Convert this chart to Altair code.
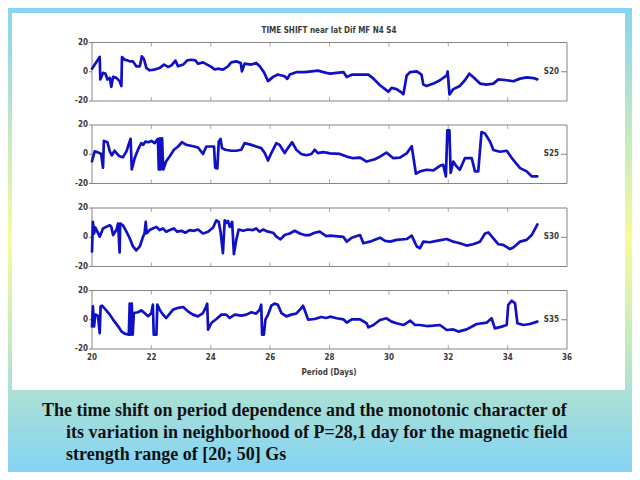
import altair as alt
import pandas as pd

# ---------------- data ----------------
TITLE = "TIME SHIFT near lat Dif MF N4 S4"
X_LABEL = "Period (Days)"
SERIES_NAMES = ["S20", "S25", "S30", "S35"]
X_TICKS = [20, 22, 24, 26, 28, 30, 32, 34, 36]
X_INNER_TICKS = [22, 24, 26, 28, 30, 32, 34]
Y_TICKS = [-20, 0, 20]
CAPTION = [
    "The time shift on period dependence and the monotonic character of",
    "its variation in neighborhood of P=28,1 day for the magnetic field",
    "strength range of [20; 50] Gs",
]

s20_day = [20.00, 20.26, 20.28, 20.37, 20.45, 20.52, 20.60, 20.65, 20.71, 20.82,
           20.93, 20.99, 21.01, 21.10, 21.19, 21.27, 21.38, 21.49, 21.61, 21.68,
           21.75, 21.83, 21.94, 22.11, 22.28, 22.43, 22.56, 22.67, 22.81, 22.90,
           23.07, 23.21, 23.35, 23.48, 23.57, 23.74, 23.88, 24.02, 24.13, 24.24,
           24.41, 24.58, 24.69, 24.86, 25.01, 25.05, 25.14, 25.37, 25.53, 25.65,
           25.79, 25.93, 26.10, 26.26, 26.49, 26.58, 26.66, 26.88, 27.16, 27.39,
           27.61, 27.89,
           28.02, 28.47, 28.58, 28.75, 29.31, 29.48, 29.70, 29.87, 29.98, 30.09,
           30.26, 30.43, 30.49, 30.60, 30.72, 30.94, 31.10, 31.16, 31.27, 31.50,
           31.72, 31.95, 31.98, 32.04, 32.17, 32.39, 32.56, 32.71, 32.84, 33.07,
           33.29, 33.52, 33.69, 33.97, 34.19, 34.42, 34.64, 34.87, 35.00]
s20_val = [2.1, 10.1, -5.3, -0.8, -1.2, -5.3, -4.2, -10.3, -3.5, -4.2,
           -6.4, -9.8, 10.1, 8.2, 7.8, 7.1, 7.1, 3.7, 3.7, 10.5,
           8.7, 2.6, 1.0, 1.5, 2.6, 4.9, 3.3, 4.2, 7.6, 3.7,
           4.9, 7.8, 8.2, 7.8, 5.5, 6.4, 4.9, 3.3, 1.5, 2.1,
           1.5, 3.7, 6.4, 7.1, 6.0, 0.3, 5.5, 4.9, 6.0, 3.7,
           -0.3, -6.4, -3.5, -1.9, -3.1, -4.9, -1.9, -0.3, -0.3, 0.3,
           0.8, -0.8,
           -1.3, -0.2, -3.6, -2.0, -2.0, -4.7, -9.2, -11.9, -13.7, -11.0,
           -11.9, -14.2, -15.3, -2.5, -0.2, 0.2, -2.0, -8.8, -9.7, -8.1,
           -5.8, -2.5, 0.2, -15.5, -11.9, -9.7, -5.8, -1.3, -3.6, -8.1,
           -8.8, -8.1, -5.2, -5.8, -6.5, -4.7, -3.8, -4.3, -5.2]

s25_day = [20.00, 20.09, 20.20, 20.31, 20.37, 20.40, 20.52, 20.60, 20.67, 20.76,
           20.85, 20.93, 21.04, 21.16, 21.27, 21.30, 21.34, 21.44, 21.55, 21.66,
           21.72, 21.80, 21.89, 22.00, 22.11, 22.22, 22.25, 22.29, 22.31, 22.36,
           22.40, 22.50, 22.62, 22.76, 22.90, 23.03, 23.18, 23.29, 23.44, 23.57,
           23.74, 23.85, 24.00, 24.11, 24.15, 24.22, 24.27, 24.33, 24.38, 24.49,
           24.69, 24.86, 25.03, 25.14, 25.37, 25.53, 25.70, 25.82, 25.93, 26.04,
           26.21, 26.32, 26.49, 26.60, 26.74, 26.88, 27.05, 27.22, 27.39, 27.50,
           27.61, 27.78, 27.89,
           28.02, 28.35, 28.58, 28.80, 29.03, 29.25, 29.53, 29.70, 29.92, 30.15,
           30.37, 30.60, 30.77, 30.91, 31.05, 31.27, 31.50, 31.72, 31.83, 31.92,
           31.97, 32.04, 32.08, 32.17, 32.28, 32.39, 32.56, 32.79, 32.90, 33.01,
           33.12, 33.24, 33.41, 33.52, 33.74, 33.97, 34.19, 34.42, 34.64, 34.81,
           35.00]
s25_val = [-4.8, 2.0, 1.3, 0.2, -9.2, 9.1, 8.2, 2.0, -0.7, 2.4,
           0.2, -1.4, -2.1, 2.0, 8.7, 10.5, -10.4, -2.5, 3.1, 7.6,
           6.4, 8.7, 8.2, 9.1, 7.6, 10.5, -10.4, 10.9, -10.4, 10.9,
           -10.4, -4.8, -1.4, 3.1, 5.3, 8.2, 6.4, 6.0, 5.3, 4.6,
           0.2, 5.3, 5.3, 5.3, -9.2, -9.7, 8.7, 10.5, 4.2, 3.1,
           2.4, 2.4, 3.1, 7.6, 6.4, 5.3, 4.2, 0.8, -4.3, 0.8,
           7.6, 6.4, 0.8, 4.2, 8.2, 3.1, 0.2, -0.7, 0.2, 3.1,
           0.8, 1.5, 1.1,
           0.6, 0.2, -1.6, -2.7, -2.3, -5.0, -3.4, -1.6, 1.1, -2.7,
           -2.3, 0.6, 5.5, -13.3, -11.7, -10.6, -11.0, -7.9, -7.2, -15.1,
           16.3, 16.3, -12.8, -5.0, -8.3, -10.6, -2.7, -2.7, -11.7, -11.7,
           15.2, 14.1, 8.5, 2.9, 1.7, 2.4, -3.9, -9.5, -11.7, -15.1,
           -15.1]

s30_day = [20.00, 20.03, 20.07, 20.11, 20.18, 20.26, 20.37, 20.48, 20.60, 20.65,
           20.71, 20.82, 20.88, 20.93, 20.95, 21.04, 21.16, 21.27, 21.38, 21.49,
           21.61, 21.72, 21.77, 21.81, 21.84, 21.94, 22.05, 22.17, 22.28, 22.39,
           22.50, 22.62, 22.76, 22.87, 23.01, 23.14, 23.29, 23.44, 23.57, 23.74,
           23.91, 24.08, 24.19, 24.27, 24.33, 24.41, 24.47, 24.52, 24.58, 24.64,
           24.72, 24.78, 24.86, 24.94, 25.09, 25.25, 25.42, 25.53, 25.65, 25.76,
           25.93, 26.10, 26.21, 26.35, 26.49, 26.66, 26.83, 27.00, 27.16, 27.33,
           27.50, 27.67, 27.89,
           28.02, 28.47, 28.58, 28.75, 29.03, 29.14, 29.36, 29.70, 29.87, 30.04,
           30.26, 30.60, 30.77, 30.94, 31.05, 31.16, 31.38, 31.61, 31.95, 32.17,
           32.39, 32.62, 32.84, 33.07, 33.24, 33.35, 33.52, 33.69, 33.85, 34.08,
           34.19, 34.42, 34.64, 34.81, 35.00]
s30_val = [-9.7, 10.5, 2.6, 6.7, 3.8, 0.4, 6.0, 7.1, 8.2, 7.1,
           1.5, 4.9, 9.4, -10.4, 9.4, 8.2, 3.8, -0.7, -6.3, -9.0,
           -6.3, 0.4, 2.6, 10.5, 2.6, 4.9, 6.0, 7.1, 4.9, 6.0,
           3.8, 4.9, 6.0, 3.8, 4.4, 3.1, 4.9, 4.4, 5.3, 2.6,
           3.8, 6.7, 11.6, 10.5, 3.8, -10.8, 11.6, 9.8, 11.1, 7.1,
           10.5, -11.5, -1.8, 5.3, 4.4, 5.3, 4.9, 6.0, 3.8, 5.3,
           3.8, 3.1, 0.4, -1.4, 1.5, 2.6, 4.4, 2.6, 1.5, 1.5,
           3.1, 3.8, 0.8,
           1.1, 0.2, -3.0, -0.3, 1.5, -4.1, -3.0, -0.3, -2.5, -3.0,
           -1.8, -1.2, 1.1, -6.3, -7.5, -3.0, -3.4, -2.5, -1.2, -3.0,
           -4.1, -5.7, -4.8, -3.0, 2.6, 3.3, -0.7, -4.8, -5.2, -8.1,
           -7.0, -3.0, -1.8, 1.5, 8.7]

s35_day = [20.00, 20.03, 20.07, 20.11, 20.20, 20.26, 20.29, 20.34, 20.48, 20.60,
           20.71, 20.88, 20.99, 21.10, 21.24, 21.27, 21.30, 21.34, 21.37, 21.41,
           21.55, 21.66, 21.77, 21.89, 22.00, 22.05, 22.08, 22.17, 22.20, 22.28,
           22.39, 22.50, 22.62, 22.73, 22.87, 23.07, 23.23, 23.40, 23.57, 23.74,
           23.85, 23.88, 23.91, 24.02, 24.19, 24.36, 24.52, 24.64, 24.81, 25.03,
           25.20, 25.37, 25.53, 25.65, 25.70, 25.73, 25.79, 25.84, 25.93, 26.04,
           26.15, 26.26, 26.38, 26.55, 26.71, 26.88, 27.05, 27.11, 27.28, 27.50,
           27.72, 27.89,
           28.02, 28.24, 28.47, 28.58, 28.75, 29.03, 29.25, 29.31, 29.48, 29.70,
           29.92, 30.09, 30.26, 30.49, 30.72, 30.88, 31.05, 31.27, 31.50, 31.72,
           31.95, 32.17, 32.34, 32.62, 32.96, 33.29, 33.46, 33.57, 33.80, 33.97,
           34.02, 34.14, 34.25, 34.33, 34.53, 34.75, 35.00]
s35_val = [-4.5, 9.2, -4.5, 3.5, 2.8, -9.1, 9.2, 9.6, 6.4, 3.5,
           0.1, -4.5, -7.9, -9.5, -10.2, 11.0, -10.2, 11.0, -10.2, 4.6,
           5.1, 6.4, 4.6, 2.3, 4.6, 10.3, -10.2, -10.2, 10.3, 6.9,
           3.5, 1.2, 4.2, 6.9, 8.0, 8.7, 5.8, 3.5, 2.3, 4.6,
           9.2, 11.0, -6.8, -2.2, 0.5, 3.5, 3.5, 1.2, 3.5, 2.8,
           3.5, 5.1, 4.2, 6.9, 10.3, -10.2, -10.2, 0.1, 3.5, 9.6,
           11.0, 10.3, 4.6, 2.3, 3.5, 4.2, 8.0, 9.6, 0.1, 0.5,
           1.9, 1.2,
           2.1, 1.0, 0.3, -2.0, 0.3, 0.3, -2.4, -5.2, -3.6, -0.2,
           1.0, -1.3, -2.4, -3.6, -0.6, -3.6, -3.6, -4.3, -4.0, -3.6,
           -7.0, -6.6, -8.1, -6.6, -2.9, -2.0, 1.0, -5.9, -4.7, -3.6,
           10.1, 13.0, 11.2, -2.4, -3.6, -2.9, -1.3]

SERIES = [(s20_day, s20_val), (s25_day, s25_val), (s30_day, s30_val), (s35_day, s35_val)]

# ---------------- layout / style ----------------
W, H = 624, 464
X_RANGE = [84, 559]
PANEL_TOP = [34.5, 117, 200, 282.5]
PANEL_H = 58.5
LINE_BLUE = "#1010c4"
FRAME = "#858585"
TXT = "#3a3a3a"
SMALL_FONT = "Liberation Sans Narrow, DejaVu Sans Condensed, sans-serif"
CAP_FONT = "Liberation Serif, Times New Roman, serif"
SMALL_SIZE = 8


def xs():
    return alt.Scale(domain=[20, 36], range=X_RANGE, nice=False, zero=False)


def ys(i):
    return alt.Scale(domain=[-20, 20], range=[PANEL_TOP[i] + PANEL_H, PANEL_TOP[i]],
                     nice=False, zero=False)


one = alt.Data(values=[{"a": 1}])
layers = []

# background gradient and white sheet
layers.append(
    alt.Chart(one).mark_rect(
        fill=alt.LinearGradient(
            gradient="linear", x1=0, x2=0, y1=0, y2=1,
            stops=[alt.GradientStop(color="#86d4f3", offset=0),
                   alt.GradientStop(color="#f8fb98", offset=0.5),
                   alt.GradientStop(color="#84d3f4", offset=1)]),
        stroke=None,
    ).encode(x=alt.value(0), x2=alt.value(W), y=alt.value(0), y2=alt.value(H))
)
layers.append(
    alt.Chart(one).mark_rect(fill="white", stroke=None).encode(
        x=alt.value(4), x2=alt.value(617), y=alt.value(5), y2=alt.value(382))
)

frame_df = pd.DataFrame({"x0": [20], "x1": [36], "y0": [-20], "y1": [20]})
xt_df = pd.DataFrame({"t": X_INNER_TICKS, "lo": [-20] * len(X_INNER_TICKS),
                      "hi": [20] * len(X_INNER_TICKS)})
yt_df = pd.DataFrame({"v": Y_TICKS, "lab": [str(v) for v in Y_TICKS]})

for i, (days, vals) in enumerate(SERIES):
    df = pd.DataFrame({"day": days, "val": vals, "i": list(range(len(days)))})
    # frame
    layers.append(
        alt.Chart(frame_df).mark_rect(fillOpacity=0, stroke=FRAME, strokeWidth=1).encode(
            x=alt.X("x0:Q", scale=xs(), axis=None), x2="x1:Q",
            y=alt.Y("y0:Q", scale=ys(i), axis=None), y2="y1:Q")
    )
    # inner x ticks (bottom and top)
    layers.append(
        alt.Chart(xt_df).mark_tick(orient="vertical", size=4, thickness=1, color=FRAME,
                                   yOffset=-2).encode(
            x=alt.X("t:Q", scale=xs(), axis=None),
            y=alt.Y("lo:Q", scale=ys(i), axis=None))
    )
    layers.append(
        alt.Chart(xt_df).mark_tick(orient="vertical", size=4, thickness=1, color=FRAME,
                                   yOffset=2).encode(
            x=alt.X("t:Q", scale=xs(), axis=None),
            y=alt.Y("hi:Q", scale=ys(i), axis=None))
    )
    # left y ticks and labels
    layers.append(
        alt.Chart(yt_df).mark_rule(color=FRAME, strokeWidth=1).encode(
            x=alt.value(81), x2=alt.value(84),
            y=alt.Y("v:Q", scale=ys(i), axis=None))
    )
    layers.append(
        alt.Chart(yt_df).mark_text(align="right", baseline="middle", font=SMALL_FONT,
                                   fontSize=SMALL_SIZE, fontWeight="bold", color=TXT).encode(
            x=alt.value(80), y=alt.Y("v:Q", scale=ys(i), axis=None), text="lab:N")
    )
    # right series name with tick at 0
    name_df = pd.DataFrame({"v": [0], "lab": [SERIES_NAMES[i]]})
    layers.append(
        alt.Chart(name_df).mark_rule(color=FRAME, strokeWidth=1).encode(
            x=alt.value(553), x2=alt.value(559),
            y=alt.Y("v:Q", scale=ys(i), axis=None))
    )
    layers.append(
        alt.Chart(name_df).mark_text(align="right", baseline="middle", font=SMALL_FONT,
                                     fontSize=SMALL_SIZE, fontWeight="bold", color=TXT).encode(
            x=alt.value(551), y=alt.Y("v:Q", scale=ys(i), axis=None), text="lab:N")
    )
    # data line
    layers.append(
        alt.Chart(df).mark_line(color=LINE_BLUE, strokeWidth=2.7, strokeJoin="round",
                                strokeCap="round").encode(
            x=alt.X("day:Q", scale=xs(), axis=None),
            y=alt.Y("val:Q", scale=ys(i), axis=None),
            order="i:Q")
    )

# x tick labels under the last panel
xl_df = pd.DataFrame({"t": X_TICKS, "lab": [str(t) for t in X_TICKS]})
layers.append(
    alt.Chart(xl_df).mark_text(align="center", baseline="middle", font=SMALL_FONT,
                               fontSize=SMALL_SIZE, fontWeight="bold", color=TXT).encode(
        x=alt.X("t:Q", scale=xs(), axis=None), y=alt.value(350), text="lab:N")
)
# axis title and chart title
layers.append(
    alt.Chart(one).mark_text(align="center", baseline="middle", font=SMALL_FONT,
                             fontSize=SMALL_SIZE, fontWeight="bold", color=TXT,
                             text=X_LABEL).encode(x=alt.value(321), y=alt.value(364.5))
)
layers.append(
    alt.Chart(one).mark_text(align="center", baseline="middle", font=SMALL_FONT,
                             fontSize=SMALL_SIZE, fontWeight="bold", color=TXT,
                             text=TITLE).encode(x=alt.value(321), y=alt.value(22.5))
)
# caption
cap_pos = [(34, 403), (58, 425), (58, 447)]
for line, (cx, cy) in zip(CAPTION, cap_pos):
    layers.append(
        alt.Chart(one).mark_text(align="left", baseline="middle", font=CAP_FONT,
                                 fontSize=18, fontWeight="bold", color="#111111",
                                 text=line).encode(x=alt.value(cx), y=alt.value(cy))
    )

chart = alt.layer(*layers).resolve_scale(
    x="independent", y="independent"
).properties(
    width=W, height=H, padding=0, background="white",
    autosize=alt.AutoSizeParams(type="none"),
).configure_view(stroke=None)

chart.save("out.html", embed_options={"renderer": "svg", "actions": False})
